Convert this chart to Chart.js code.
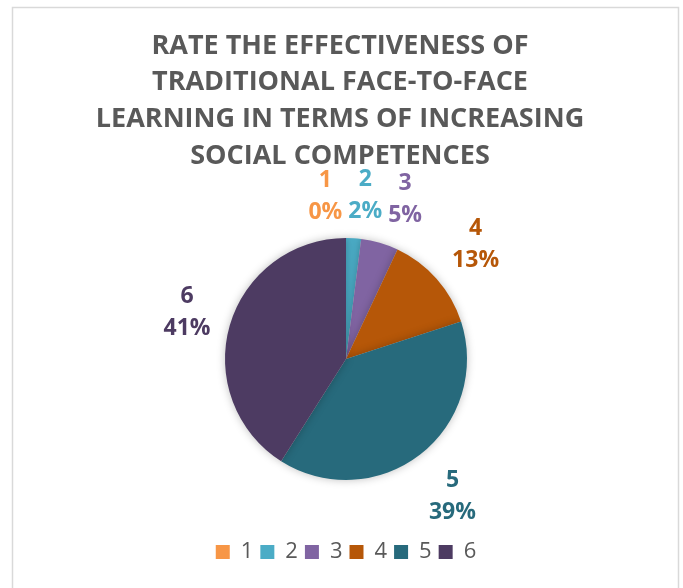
<!DOCTYPE html>
<html>
<head>
<meta charset="utf-8">
<script src="https://cdn.jsdelivr.net/npm/chart.js@4.4.0/dist/chart.umd.min.js"></script>
<style>
  html, body { margin: 0; padding: 0; background: #fff; }
  #wrap { width: 683px; height: 588px; }
</style>
</head>
<body>
<div id="wrap"><canvas id="pie" width="683" height="588"></canvas></div>
<script>
// Data
const categories = ['1', '2', '3', '4', '5', '6'];
const shares = [0, 2, 5, 13, 39, 41];
const sliceColors = ['#F79646', '#4BACC6', '#8064A2', '#B65708', '#276A7C', '#4D3B62'];
const titleLines = [
  'RATE THE EFFECTIVENESS OF',
  'TRADITIONAL FACE-TO-FACE',
  'LEARNING IN TERMS OF INCREASING',
  'SOCIAL COMPETENCES'
];

const FONT = "'Open Sans', sans-serif";

// frame around the chart (like the office chart border)
const framePlugin = {
  id: 'frame',
  beforeDraw(chart) {
    const ctx = chart.ctx;
    ctx.save();
    ctx.strokeStyle = '#d9d9d9';
    ctx.lineWidth = 1.5;
    ctx.strokeRect(12.5, 7.5, 666, 600);
    ctx.restore();
  }
};

// title drawn by hand, so it can be centred on the frame not on the pie
const titlePlugin = {
  id: 'bigTitle',
  afterDraw(chart) {
    const ctx = chart.ctx;
    ctx.save();
    ctx.font = `bold 27px ${FONT}`;
    ctx.fillStyle = '#595959';
    ctx.textAlign = 'center';
    ctx.textBaseline = 'middle';
    titleLines.forEach((line, i) => {
      ctx.fillText(line, 340, 46 + i * 36.7);
    });
    ctx.restore();
  }
};

// soft shadow under the pie
const shadowPlugin = {
  id: 'pieShadow',
  beforeDatasetDraw(chart) {
    const ctx = chart.ctx;
    ctx.save();
    ctx.shadowColor = 'rgba(0,0,0,0.25)';
    ctx.shadowBlur = 8;
  },
  afterDatasetDraw(chart) {
    chart.ctx.restore();
  }
};

// outside labels: category + percent, in slice colour
const outerLabels = {
  id: 'outerLabels',
  afterDatasetsDraw(chart) {
    const ctx = chart.ctx;
    const meta = chart.getDatasetMeta(0);
    const fontSize = 23;
    const lineH = 32;
    const gap = 13;
    ctx.save();
    ctx.font = `bold ${fontSize}px ${FONT}`;
    const labels = meta.data.map((arc, i) => {
      const p = arc.getProps(['x', 'y', 'startAngle', 'endAngle', 'outerRadius'], true);
      const mid = (p.startAngle + p.endAngle) / 2;
      const l1 = categories[i];
      const l2 = shares[i] + '%';
      const w = Math.max(ctx.measureText(l1).width, ctx.measureText(l2).width);
      const h = lineH * 2;
      const dx = Math.cos(mid), dy = Math.sin(mid);
      const dist = p.outerRadius + gap + (w / 2) * Math.abs(dx) + (h / 2) * Math.abs(dy);
      return { x: p.x + dx * dist, y: p.y + dy * dist, w, h, l1, l2, color: sliceColors[i], cy: p.y, r: p.outerRadius };
    });

    // spread labels above the pie so they don't overlap
    const top = labels.filter(l => l.y < l.cy - l.r).sort((a, b) => a.x - b.x);
    for (let k = 0; k < 30; k++) {
      for (let j = 1; j < top.length; j++) {
        const a = top[j - 1], b = top[j];
        const need = (a.w + b.w) / 2 + 6;
        const d = b.x - a.x;
        if (d < need) {
          const push = (need - d) / 2;
          a.x -= push;
          b.x += push;
        }
      }
    }
    // those squeezed ones sit a touch lower, closer to the pie
    top.forEach(l => { l.y += 3; });

    ctx.textAlign = 'center';
    ctx.textBaseline = 'middle';
    labels.forEach(l => {
      ctx.fillStyle = l.color;
      ctx.fillText(l.l1, l.x, l.y - lineH / 2);
      ctx.fillText(l.l2, l.x, l.y + lineH / 2);
    });
    ctx.restore();
  }
};

new Chart(document.getElementById('pie'), {
  type: 'pie',
  data: {
    labels: categories,
    datasets: [{
      data: shares,
      backgroundColor: sliceColors,
      borderColor: '#ffffff',
      borderWidth: 0,
      radius: 121
    }]
  },
  options: {
    responsive: false,
    animation: false,
    layout: { padding: { top: 184, left: 21, right: 12, bottom: 15 } },
    plugins: {
      title: { display: false },
      legend: {
        position: 'bottom',
        labels: {
          color: '#595959',
          font: { family: FONT, size: 22 },
          boxWidth: 14,
          boxHeight: 14,
          padding: 7
        }
      },
      tooltip: { enabled: false }
    }
  },
  plugins: [framePlugin, shadowPlugin, outerLabels, titlePlugin]
});
</script>
</body>
</html>
